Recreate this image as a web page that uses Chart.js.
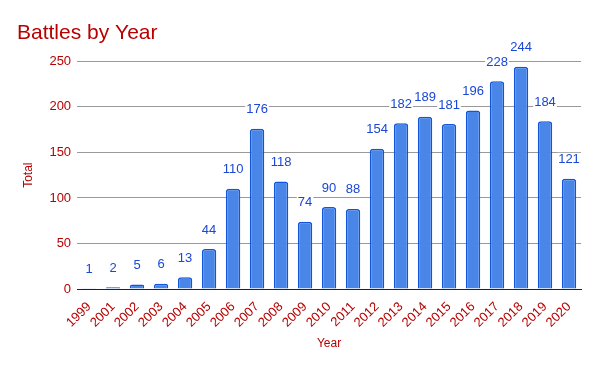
<!DOCTYPE html>
<html><head><meta charset="utf-8">
<script src="https://cdn.jsdelivr.net/npm/chart.js@4"></script>
<style>html,body{margin:0;padding:0;background:#fff}#w{width:600px;height:371px}</style>
</head><body><div id="w"><canvas id="c"></canvas></div>
<script>
const years = ["1999","2001","2002","2003","2004","2005","2006","2007","2008","2009","2010","2011","2012","2013","2014","2015","2016","2017","2018","2019","2020"];
const totals = [1,2,5,6,13,44,110,176,118,74,90,88,154,182,189,181,196,228,244,184,121];
const yTicks = [0,50,100,150,200,250];
const RED = '#b80000';
const FONT = "'Liberation Sans', Arial, sans-serif";

const labelPlugin = {
  id: 'lbl',
  afterDatasetsDraw(chart) {
    const ctx = chart.ctx;
    const meta = chart.getDatasetMeta(0);
    ctx.save();
    ctx.font = '13px ' + FONT;
    ctx.textAlign = 'center';
    ctx.textBaseline = 'middle';
    meta.data.forEach((bar, i) => {
      const t = String(totals[i]);
      const y = bar.y - 19;
      const w = ctx.measureText(t).width;
      ctx.fillStyle = '#fff';
      ctx.fillRect(bar.x - w/2 - 1, y - 7, w + 2, 14);
      ctx.fillStyle = '#1a47d6';
      ctx.fillText(t, bar.x, y);
    });
    ctx.restore();
  }
};

new Chart(document.getElementById('c'), {
  type: 'bar',
  data: { labels: years, datasets: [{
    data: totals,
    backgroundColor: '#4a86e8',
    borderColor: '#1155dd',
    borderWidth: 1.5,
    borderSkipped: 'bottom',
    borderRadius: {topLeft: 3, topRight: 3},
    barPercentage: 0.6, categoryPercentage: 1
  }]},
  options: {
    responsive: true, maintainAspectRatio: false, animation: false,
    layout: { padding: { left: 17, right: 19, top: 0, bottom: 16 } },
    plugins: {
      legend: { display: false }, tooltip: { enabled: false },
      title: { display: true, text: 'Battles by Year', align: 'start', color: RED,
        font: { family: FONT, size: 21, weight: 'normal' }, padding: { top: 21, bottom: 15 } }
    },
    scales: {
      x: {
        grid: { display: false }, border: { color: '#222', width: 1 },
        ticks: { color: RED, font: { family: FONT, size: 13 }, maxRotation: 45, minRotation: 45, autoSkip: false, padding: 2 },
        title: { display: true, text: 'Year', color: RED, font: { family: FONT, size: 12 }, padding: { top: 4 } }
      },
      y: {
        min: 0, max: 250,
        afterBuildTicks(s) { s.ticks = yTicks.map(v => ({ value: v })); },
        grid: { color: '#999', drawTicks: false }, border: { display: false },
        ticks: { color: RED, font: { family: FONT, size: 13 }, padding: 6 },
        title: { display: true, text: 'Total', color: RED, font: { family: FONT, size: 12 }, padding: { bottom: 8 } }
      }
    }
  },
  plugins: [labelPlugin]
});
</script></body></html>
